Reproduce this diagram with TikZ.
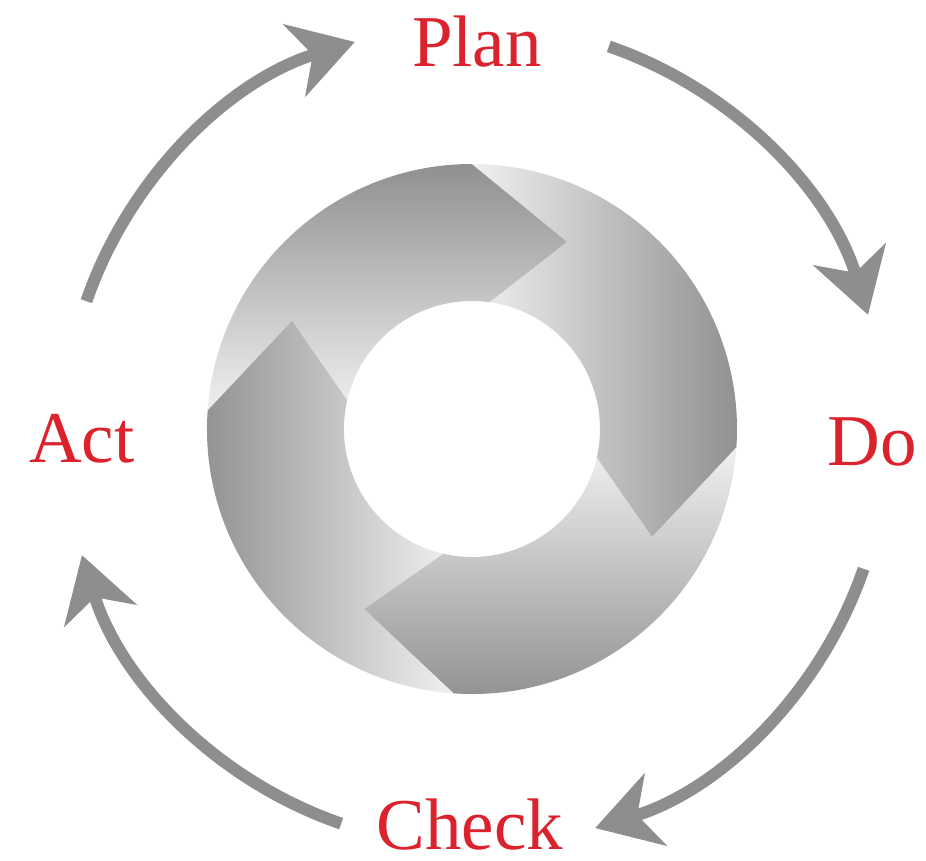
\documentclass[tikz,border=0pt]{standalone}
\usepackage{fontspec}
\setmainfont{Liberation Serif}
\usetikzlibrary{arrows.meta}

\definecolor{stagered}{RGB}{218,35,45}
\definecolor{arrowgray}{RGB}{140,143,142}
\definecolor{ringdark}{RGB}{142,145,144}
\definecolor{ringlight}{RGB}{240,240,240}

\begin{document}
\begin{tikzpicture}[
    x=1pt, y=1pt,
    stage/.style={text=stagered, font=\fontsize{73}{80}\selectfont, anchor=base, inner sep=0pt},
    cyclearrow/.style={draw=arrowgray, line width=12pt, -{Stealth[length=63pt, width=75pt, inset=19pt]}},
    segment/.style={top color=ringdark, bottom color=ringlight}
]
\useasboundingbox (-475,-425) rectangle (451,435);

% --- Shaded ring, four pieces turning clockwise ---
\begin{scope}[shift={(-3,6)}]
\foreach \ta/\tb/\tc/\ha/\hb/\hc/\ang in {
    176/149/167/90/63/82/0,
    90/63/82/-4/-31/-13/-90,
    -4/-31/-13/-94/-121/-103/180,
    -94/-121/-103/-184/-211/-193/90}
{
    \shade[segment, shading angle=\ang]
        (\ta:265pt) arc[start angle=\ta, end angle=\ha, radius=265pt]
        -- (\hb:210pt) -- (\hc:128pt)
        arc[start angle=\hc, end angle=\tc, radius=128pt]
        -- (\tb:210pt) -- cycle;
}
\end{scope}

% --- Stage labels ---
\node[stage] (plan) at (2,368) {Plan};
\node[stage] (do) at (397,-30) {Do};
\node[stage] (check) at (-5,-414) {Check};
\node[stage] (act) at (-393,-27) {Act};

% --- Arrows from stage to stage ---
\foreach \s/\e/\n in {161/107/actplan, 71/17/plando, -19/-73/docheck, -109/-163/checkact}
{
    \coordinate (\n) at (\s:411pt);
    \draw[cyclearrow] (\n) arc[start angle=\s, end angle=\e, radius=411pt];
}

\end{tikzpicture}
\end{document}
